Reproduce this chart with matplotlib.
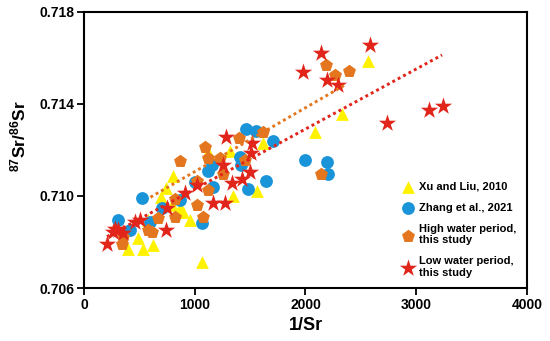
import matplotlib
matplotlib.use('Agg')
from matplotlib import pyplot as plt
import numpy as np

plt.rcParams['font.family'] = ['Liberation Sans', 'DejaVu Sans']
plt.rcParams['font.weight'] = 'bold'
plt.rcParams['mathtext.fontset'] = 'custom'
plt.rcParams['mathtext.rm'] = 'Liberation Sans:bold'
plt.rcParams['mathtext.bf'] = 'Liberation Sans:bold'

# Xu and Liu, 2010
xu_x = [2086, 1318, 1616, 804, 2565, 2330, 740, 695, 1562, 1345, 1066, 623, 533, 397, 488,
        867, 957, 578, 894, 795, 1120]
xu_y = [0.71278, 0.71196, 0.71230, 0.71087, 0.71587, 0.71357, 0.71035, 0.70996, 0.71022, 0.71000,
        0.70713, 0.70787, 0.70770, 0.70770, 0.70817, 0.70948, 0.70896, 0.70896, 0.70930, 0.70961, 0.71191]

# Zhang et al., 2021
zh_x = [1463, 1553, 1707, 1996, 2194, 2203, 1120, 1156, 1418, 1643, 1481, 1002, 1165, 524, 867,
        1066, 307, 415, 596, 704, 1409]
zh_y = [0.71291, 0.71283, 0.71239, 0.71157, 0.71148, 0.71096, 0.71109, 0.71135, 0.71135, 0.71065,
        0.71030, 0.71061, 0.71039, 0.70991, 0.70983, 0.70883, 0.70896, 0.70852, 0.70887, 0.70948, 0.71170]

# high water period, this study
hw_x = [867, 1093, 1400, 1616, 1120, 1228, 1454, 1255, 2185, 2266, 2393, 2140, 1020, 1120, 1020,
        822, 1075, 668, 578, 614, 343, 352, 822]
hw_y = [0.71152, 0.71213, 0.71252, 0.71278, 0.71165, 0.71165, 0.71157, 0.71096, 0.71570, 0.71526,
        0.71543, 0.71096, 0.71065, 0.71026, 0.70961, 0.70987, 0.70909, 0.70904, 0.70852, 0.70843,
        0.70791, 0.70822, 0.70909]

# low water period, this study
lw_x = [208, 2583, 2140, 1978, 2194, 2294, 3115, 3242, 2736, 1282, 1517, 1508, 1255, 1499, 1336,
        1427, 1020, 912, 1165, 1273, 749, 460, 506, 307, 262, 352, 740, 280]
lw_y = [0.70791, 0.71657, 0.71622, 0.71539, 0.71504, 0.71483, 0.71374, 0.71391, 0.71317, 0.71257,
        0.71230, 0.71187, 0.71135, 0.71104, 0.71057, 0.71074, 0.71048, 0.71013, 0.70970, 0.70970,
        0.70948, 0.70887, 0.70896, 0.70852, 0.70843, 0.70839, 0.70852, 0.70857]

# trend lines (slope, intercept, x range)
hw_fit = (2.778e-6, 0.70828)
hw_range = [600, 2357]
lw_fit = (2.61e-6, 0.70769)
lw_range = [208, 3233]

yellow = '#FFF200'
blue = '#1A94D8'
orange = '#E3761E'
red = '#E1251B'

fig = plt.figure(figsize=(5.5, 3.41), dpi=100)
ax = fig.add_axes([0.1527, 0.1554, 0.8055, 0.8096])

ax.scatter(xu_x, xu_y, marker='^', s=85, color=yellow, linewidths=0, label='Xu and Liu, 2010', zorder=2)
ax.scatter(zh_x, zh_y, marker='o', s=85, color=blue, linewidths=0, label='Zhang et al., 2021', zorder=3)
ax.scatter(hw_x, hw_y, marker='p', s=95, color=orange, linewidths=0,
           label='High water period,\nthis study', zorder=4)
ax.scatter(lw_x, lw_y, marker='*', s=170, color=red, linewidths=0,
           label='Low water period,\nthis study', zorder=5)

xr = np.array(hw_range)
ax.plot(xr, hw_fit[0] * xr + hw_fit[1], color=orange, ls=(0, (1, 1.1)), lw=2.1, zorder=6)
xr = np.array(lw_range)
ax.plot(xr, lw_fit[0] * xr + lw_fit[1], color=red, ls=(0, (1, 1.1)), lw=2.1, zorder=6)

ax.set_xlim(0, 4000)
ax.set_ylim(0.706, 0.718)
ax.set_xticks([0, 1000, 2000, 3000, 4000])
ax.set_yticks([0.706, 0.710, 0.714, 0.718])
ax.set_yticklabels(['0.706', '0.710', '0.714', '0.718'])
ax.tick_params(direction='out', length=5, width=1.3, labelsize=10, pad=2)
for lab in ax.get_xticklabels() + ax.get_yticklabels():
    lab.set_fontweight('bold')
for sp in ax.spines.values():
    sp.set_linewidth(1.5)

ax.set_xlabel('1/Sr', fontsize=13, fontweight='bold')
ax.xaxis.set_label_coords(0.5, -0.105)
ax.set_ylabel(r'$\mathbf{^{87}Sr/^{86}Sr}$', fontsize=12.5)
ax.yaxis.set_label_coords(-0.125, 0.55)

leg = ax.legend(loc='lower right', bbox_to_anchor=(0.99, 0.012), frameon=False, fontsize=8,
                handletextpad=0.2, labelspacing=1.0, borderaxespad=0.2, handlelength=1.5)
for t in leg.get_texts():
    t.set_fontweight('bold')

fig.savefig('out.png', dpi=100)
